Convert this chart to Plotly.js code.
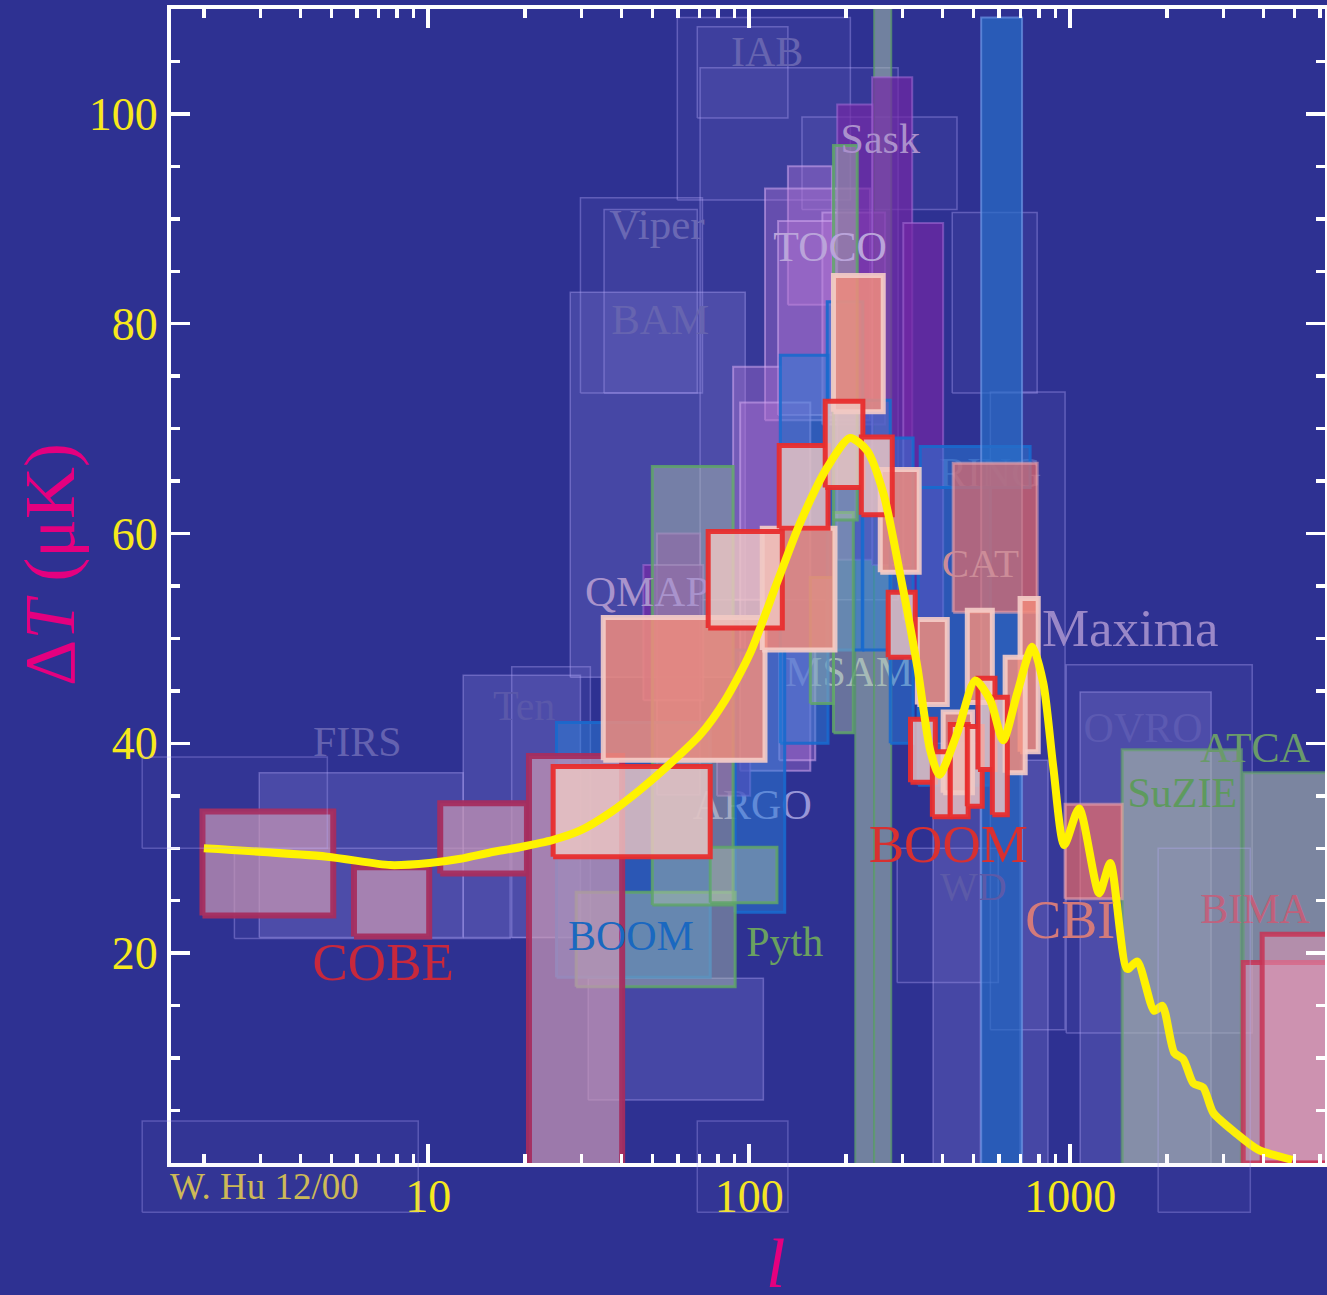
<!DOCTYPE html>
<html>
<head>
<meta charset="utf-8">
<script src="https://cdn.plot.ly/plotly-3.0.1.min.js"></script>
<style>
html,body{margin:0;padding:0;background:#2e3192;}
#chart{width:1327px;height:1295px;}
</style>
</head>
<body>
<div id="chart"></div>
<script>
// ---------------- DATA (l = multipole, dT in microK) ----------------
// Theory curve
const theoryL = [2, 4.84, 7.62, 10.1, 12.6, 15.6, 19.3, 24.5, 29.8, 36.9, 45.8, 55.5, 70.3, 84.1, 100.7, 122, 144, 175, 206, 233, 262, 295, 334, 366, 391, 445, 506, 564, 618, 684, 762, 825, 886, 958, 1066, 1231, 1333, 1506, 1618, 1828, 1936, 2110, 2251, 2418, 2597, 2789, 3266, 3852, 4920];
const theoryT = [30.0, 29.2, 28.4, 28.6, 29.0, 29.6, 30.1, 30.8, 31.7, 33.4, 35.6, 37.8, 40.8, 44.1, 48.6, 55.3, 61.0, 66.3, 69.1, 67.9, 63.8, 56.2, 47.3, 39.4, 37.0, 41.0, 46.0, 44.1, 40.3, 44.8, 49.2, 45.7, 37.7, 30.3, 33.8, 25.7, 28.6, 18.5, 19.2, 14.5, 15.0, 10.5, 9.9, 7.6, 7.2, 4.8, 2.9, 1.27, 0.3];

// Faint outline boxes (various small experiments)
const faintLmin = [2.49, 18.2, 29.8, 35.3, 59.7, 68.9, 70.3, 146, 429, 564, 289, 972];
const faintLmax = [18.0, 32.0, 71.5, 68.9, 206.6, 132, 291, 444, 789, 964, 597, 3690];
const faintLow  = [21.4, 21.5, 73.4, 73.4, 91.8, 99.6, 53.7, 90.9, 73.4, 12.7, 17.2, 12.4];
const faintHigh = [30.0, 47.3, 92.0, 90.9, 109.2, 108.3, 104.4, 99.7, 90.6, 73.5, 30.0, 47.5];

// Faint boxes that run past the frame
const outerLmin = [1.285, 1.285, 68.9, 1879];
const outerLmax = [4.85, 9.31, 132, 3640];
const outerLow  = [30.0, -4.7, -4.7, -4.7];
const outerHigh = [38.7, 4.0, 4.0, 30.0];

// Lavender filled boxes (FIRS, Tenerife, BAM, OVRO, ...)
const lavLmin = [2.976, 12.85, 27.7, 31.5, 1074, 374, 698];
const lavLmax = [12.85, 29.8, 97.2, 110.7, 2748, 525, 853];
const lavLow  = [21.5, 21.5, 46.3, 6.0, -3, -3, -3];
const lavHigh = [37.2, 46.5, 83.0, 17.6, 44.9, 40.0, 38.4];

// Mauve boxes (TOCO, ...)
const mauveLmin = [132, 112, 169, 123, 89.1, 93.7, 124];
const mauveLmax = [181, 238, 265, 183, 125, 155, 160.6];
const mauveLow  = [81.8, 70.8, 70.4, 71.3, 53.7, 37.4, 38.4];
const mauveHigh = [95.0, 92.9, 90.6, 89.8, 75.9, 72.5, 48.9];

// Purple boxes (Sask, QMAP, ...)
const purpleLmin = [188, 241.5, 302, 51.6, 46.8, 79.4];
const purpleLmax = [243, 322, 402, 70.3, 71.9, 100.7];
const purpleLow  = [57.5, 57.0, 51.8, 35.1, 44.1, 35.0];
const purpleHigh = [100.9, 103.5, 89.6, 60.0, 57.0, 38.3];

// Tall grey-green bars
const barLmin = [214, 245];
const barLmax = [245, 277];
const barLow  = [-3, -3];
const barHigh = [68.4, 120];

// SuZIE / ATCA
const szLmin = [1452, 3459];
const szLmax = [3413, 8000];
const szLow  = [-3, -3];
const szHigh = [39.4, 37.2];

// Blue boxes (BOOM 97/98, RING, ...)
const blueLmin = [25.1, 125, 175, 90.4, 225, 275, 336, 341];
const blueLmax = [75.6, 176, 226, 129, 275, 324, 564, 750];
const blueLow  = [17.7, 40.0, 48.9, 23.9, 48.9, 40.0, 36.0, 64.4];
const blueHigh = [42.0, 77.0, 82.1, 48.9, 72.7, 69.1, 64.4, 68.3];
const tallLmin = [528];
const tallLmax = [708];
const tallLow  = [-3];
const tallHigh = [109.2];

// Green boxes (Python, MSAM, ...)
const greenLmin = [28.9, 49.9, 75.6, 155, 183, 183];
const greenLmax = [90.4, 89.1, 122, 183, 211, 217];
const greenLow  = [16.8, 24.6, 24.8, 43.8, 41.0, 61.3];
const greenHigh = [25.8, 66.4, 30.1, 55.8, 62.0, 97.0];

// COBE
const cobeLmin = [1.98, 5.87, 10.9, 20.6];
const cobeLmax = [5.06, 10.07, 20.3, 40.2];
const cobeLow  = [23.6, 21.6, 27.6, -3];
const cobeHigh = [33.5, 28.2, 34.3, 38.8];

// CAT / CBI
const catLmin = [432, 964];
const catLmax = [789, 1452];
const catLow  = [52.5, 25.2];
const catHigh = [66.7, 34.2];

// BIMA
const bimaLmin = [3459, 3963];
const bimaLmax = [8000, 8000];
const bimaLow  = [0, 0];
const bimaHigh = [19.1, 21.8];

// Maxima
const maxLmin = [183, 35.1, 109.8, 256, 334, 478, 698, 627, 402];
const maxLmax = [261.5, 112, 185, 338.5, 414, 572, 795, 724, 496];
const maxLow  = [71.6, 38.4, 48.9, 56.3, 43.7, 43.9, 39.2, 37.2, 35.3];
const maxHigh = [84.6, 52.0, 60.5, 66.1, 51.8, 52.7, 53.8, 48.2, 43.0];

// BOOMERANG (2000)
const boomLmin = [24.5, 74.5, 124, 172.5, 223.5, 271, 318, 372, 423, 478, 516, 572];
const boomLmax = [75.6, 126.8, 176, 226, 279, 329, 380, 423, 481, 532, 583, 637];
const boomLow  = [29.2, 51.0, 60.5, 64.4, 61.8, 48.2, 36.3, 33.0, 33.0, 34.0, 37.5, 33.2];
const boomHigh = [37.8, 60.2, 68.4, 72.6, 69.2, 54.4, 42.3, 39.2, 41.8, 41.6, 46.2, 44.4];

// Experiment labels
const underText = ['ARGO', 'MSAM', 'RING'];
const underL = [102.2, 205, 564];
const underT = [33.8, 46.5, 65.4];
const midText = ['QMAP'];
const midL = [48.1];
const midT = [54.1];
const labelText = ['IAB', 'Sask', 'Viper', 'TOCO', 'BAM', 'Ten', 'FIRS', 'COBE', 'BOOM', 'Pyth', 'CAT', 'Maxima', 'OVRO', 'ATCA', 'SuZIE', 'BOOM', 'WD', 'CBI', 'BIMA'];
const labelL = [113.8, 256, 51.6, 178.6, 52.8, 19.9, 6.01, 7.24, 42.8, 129, 525, 1538, 1687, 3767, 2234, 417, 499, 1000, 3767];
const labelT = [105.6, 97.3, 89.1, 87.0, 80.0, 43.2, 39.8, 18.7, 21.3, 20.7, 56.8, 50.5, 41.1, 39.2, 34.9, 30.0, 26.0, 22.7, 23.9];

// Axis ticks
const xMajor = [10, 100, 1000];
const xMinor = [2,3,4,5,6,7,8,9,20,30,40,50,60,70,80,90,200,300,400,500,600,700,800,900,2000,3000,4000,5000,6000];
const yMajor = [20, 40, 60, 80, 100];

// ---------------- STYLES / GEOMETRY ----------------
const W = 1327, H = 1295;
const plotL = 171, plotR = 1325, plotT = 9, plotB = 1163;
const xr = [Math.log10(1.58), Math.log10(6220)];
const yr = [0, 110];
const xpp = (xr[1]-xr[0])/(plotR-plotL);
const ypp = (yr[1]-yr[0])/(plotB-plotT);
const xr3 = [xr[0]-plotL*xpp, xr[1]+(W-plotR)*xpp];
const yr3 = [yr[0]-(H-plotB)*ypp, yr[1]+plotT*ypp];

const SERIF = 'Liberation Serif, Times New Roman, serif';

const styles = {
  faint:  {fill:'rgba(170,160,240,0.07)', line:'rgba(185,175,255,0.35)', width:1.5},
  outer:  {fill:'rgba(170,160,240,0.04)', line:'rgba(185,175,255,0.3)', width:1.5},
  lav:    {fill:'rgba(160,150,230,0.22)', line:'rgba(175,165,245,0.4)', width:1.5},
  mauve:  {fill:'rgba(180,115,210,0.38)', line:'rgba(210,170,240,0.55)', width:2},
  purple: {fill:'rgba(115,40,165,0.7)', line:'rgba(165,110,215,0.55)', width:2},
  bar:    {fill:'rgba(170,195,170,0.55)', line:'rgba(90,150,110,0.8)', width:2},
  sz:     {fill:'rgba(175,190,170,0.6)', line:'rgba(100,160,110,0.7)', width:3},
  blue:   {fill:'rgba(40,125,215,0.5)', line:'rgba(25,105,205,0.9)', width:3},
  tall:   {fill:'rgba(40,110,200,0.7)', line:'rgba(110,150,230,0.7)', width:2},
  green:  {fill:'rgba(175,195,170,0.45)', line:'rgba(95,165,105,0.85)', width:3},
  cobe:   {fill:'rgba(200,150,180,0.72)', line:'rgba(165,45,95,0.95)', width:6},
  cat:    {fill:'rgba(255,112,95,0.62)', line:'rgba(235,165,175,0.6)', width:3},
  bima:   {fill:'rgba(225,150,180,0.55)', line:'rgba(200,50,85,0.85)', width:5},
  maxima: {fill:'rgba(240,140,125,0.85)', line:'rgba(245,205,200,0.9)', width:5},
  boom:   {fill:'rgba(240,200,195,0.8)', line:'rgba(232,45,45,0.95)', width:5}
};

const traces = [];
function addBoxes(l0, l1, lo, hi, st, xa, ya) {
  for (let i = 0; i < l0.length; i++) {
    traces.push({
      type:'scatter', mode:'lines',
      x:[l0[i], l1[i], l1[i], l0[i], l0[i]],
      y:[lo[i], lo[i], hi[i], hi[i], lo[i]],
      fill:'toself', fillcolor:st.fill,
      line:{color:st.line, width:st.width},
      hoverinfo:'skip', showlegend:false,
      xaxis:xa || 'x', yaxis:ya || 'y'
    });
  }
}
function addLabels(txt, l, t, colors, sizes) {
  traces.push({
    type:'scatter', mode:'text', x:l, y:t, text:txt,
    textposition:'middle center',
    textfont:{family:SERIF, size:sizes, color:colors},
    hoverinfo:'skip', showlegend:false, cliponaxis:false
  });
}

addBoxes(faintLmin, faintLmax, faintLow, faintHigh, styles.faint);
addBoxes(lavLmin, lavLmax, lavLow, lavHigh, styles.lav);
addLabels(underText, underL, underT, ['#9896d8','#a2b0c8','#5462b8'], [42,42,42]);
addBoxes(barLmin, barLmax, barLow, barHigh, styles.bar);
addBoxes(szLmin, szLmax, szLow, szHigh, styles.sz);
addBoxes(mauveLmin, mauveLmax, mauveLow, mauveHigh, styles.mauve);
addBoxes(purpleLmin, purpleLmax, purpleLow, purpleHigh, styles.purple);
addBoxes(blueLmin, blueLmax, blueLow, blueHigh, styles.blue);
addBoxes(tallLmin, tallLmax, tallLow, tallHigh, styles.tall);
addBoxes(greenLmin, greenLmax, greenLow, greenHigh, styles.green);
addBoxes(cobeLmin, cobeLmax, cobeLow, cobeHigh, styles.cobe);
addBoxes(catLmin, catLmax, catLow, catHigh, styles.cat);
addBoxes(bimaLmin, bimaLmax, bimaLow, bimaHigh, styles.bima);
addBoxes(maxLmin, maxLmax, maxLow, maxHigh, styles.maxima);
addLabels(midText, midL, midT, ['#a993cc'], [43]);
addBoxes(boomLmin, boomLmax, boomLow, boomHigh, styles.boom);

traces.push({
  type:'scatter', mode:'lines', x:theoryL, y:theoryT,
  line:{color:'#fff200', width:8, shape:'spline', smoothing:0.7},
  hoverinfo:'skip', showlegend:false
});

const labelColors = ['#6664b0','#ab90cc','#6a68b4','#baa4da','#6664b0','#5a58aa','#6462b0','#c8283c','#1a68c0','#6aa060','#cc8c98','#9a88c8','#5c5ab2','#6a9a6a','#5e9a5e','#d83030','#5c5aa8','#d47a7a','#c0607a'];
const labelSizes  = [42,42,43,42,43,42,42,53,42,42,41,53,42,42,42,53,40,54,42];
addLabels(labelText, labelL, labelT, labelColors, labelSizes);

addBoxes(outerLmin, outerLmax, outerLow, outerHigh, styles.outer, 'x3', 'y3');

// invisible anchor so that the minor-tick axis is drawn
traces.push({type:'scatter', mode:'markers', x:[xMajor[1]], y:[yMajor[0]], marker:{opacity:0, size:1},
  xaxis:'x2', yaxis:'y', hoverinfo:'skip', showlegend:false});

const axisCommon = {
  showline:true, linecolor:'#ffffff', linewidth:4, mirror:'ticks',
  ticks:'inside', ticklen:19, tickwidth:3.5, tickcolor:'#ffffff',
  showgrid:false, zeroline:false, fixedrange:true,
  tickfont:{family:SERIF, size:46, color:'#f7e81c'}
};

const layout = {
  width:W, height:H,
  margin:{l:0, r:0, t:0, b:0},
  paper_bgcolor:'#2e3192', plot_bgcolor:'rgba(0,0,0,0)',
  showlegend:false,
  xaxis: Object.assign({}, axisCommon, {
    type:'log', range:xr, domain:[plotL/W, plotR/W], anchor:'y',
    tickmode:'array', tickvals:xMajor, ticktext:xMajor.map(String),
    ticklabelstandoff:-10
  }),
  xaxis2: {
    type:'log', range:xr, domain:[plotL/W, plotR/W], anchor:'y', overlaying:'x', side:'bottom',
    tickmode:'array', tickvals:xMinor, showticklabels:false,
    ticks:'inside', ticklen:9, tickwidth:3.5, tickcolor:'#ffffff', mirror:'ticks',
    showline:false, showgrid:false, zeroline:false, fixedrange:true
  },
  yaxis: Object.assign({}, axisCommon, {
    range:yr, domain:[1-plotB/H, 1-plotT/H], anchor:'x',
    tickmode:'array', tickvals:yMajor, ticktext:yMajor.map(String),
    minor:{dtick:5, tick0:0, ticks:'inside', ticklen:9, tickwidth:3.5, tickcolor:'#ffffff'}
  }),
  xaxis3: {type:'log', range:xr3, domain:[0,1], anchor:'y3', visible:false, fixedrange:true},
  yaxis3: {range:yr3, domain:[0,1], anchor:'x3', visible:false, fixedrange:true},
  annotations: [
    {text:'Δ<i>T</i> (μK)', xref:'paper', yref:'paper', x:50/W, y:1-565/H,
     xanchor:'center', yanchor:'middle', textangle:-90, showarrow:false,
     font:{family:SERIF, size:72, color:'#e4007f'}},
    {text:'<i>l</i>', xref:'paper', yref:'paper', x:775/W, y:1-1263/H,
     xanchor:'center', yanchor:'middle', showarrow:false,
     font:{family:SERIF, size:70, color:'#e4007f'}},
    {text:'W. Hu 12/00', xref:'paper', yref:'paper', x:168/W, y:1-1186/H,
     xanchor:'left', yanchor:'middle', showarrow:false,
     font:{family:SERIF, size:37, color:'#cdb957'}}
  ]
};

Plotly.newPlot('chart', traces, layout, {displayModeBar:false, staticPlot:true});
</script>
</body>
</html>
